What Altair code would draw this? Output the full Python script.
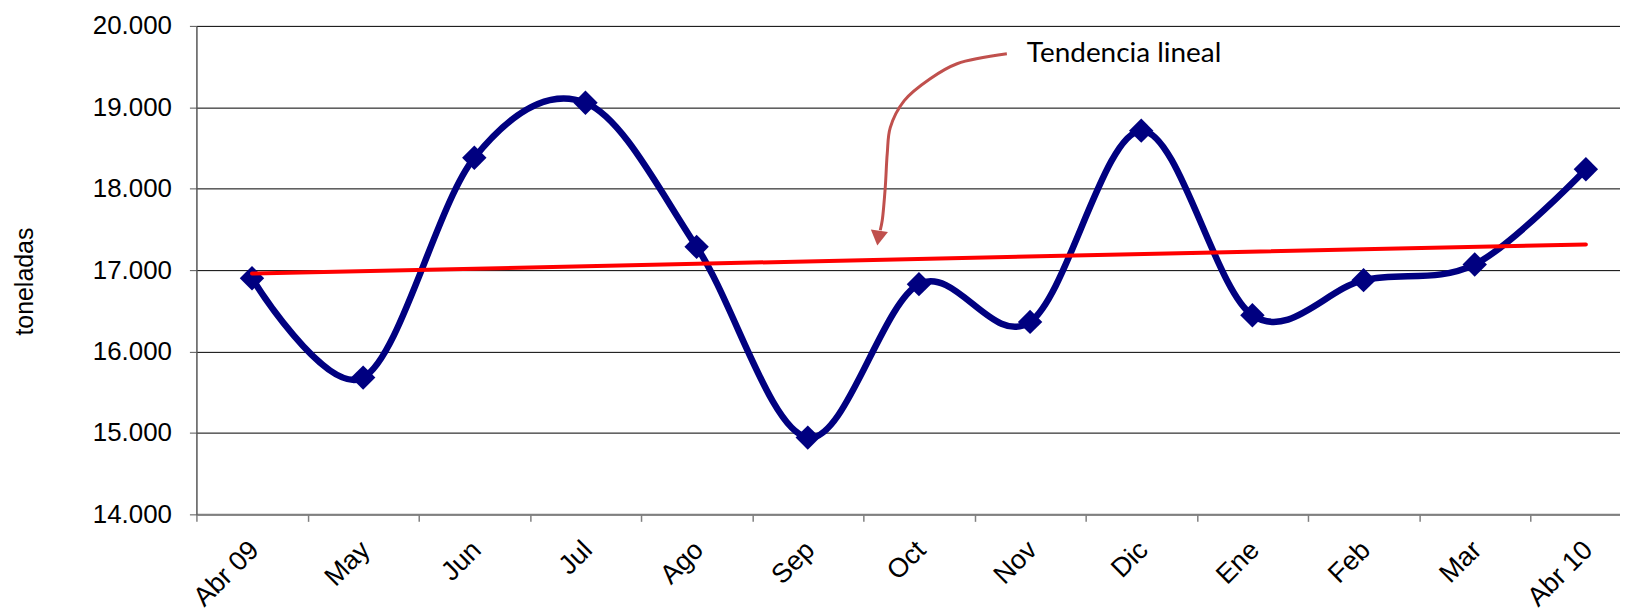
import altair as alt
import pandas as pd

# ---- data ----
months = ["Abr 09", "May", "Jun", "Jul", "Ago", "Sep", "Oct", "Nov", "Dic", "Ene", "Feb", "Mar", "Abr 10"]
tons = [16900, 15680, 18380, 19055, 17286, 14943, 16828, 16364, 18713, 16446, 16877, 17070, 18240]
y_ticks = [14000, 15000, 16000, 17000, 18000, 19000, 20000]

# annotation ("Tendencia lineal" + curved arrow), in data coordinates
note_text = ["Tendencia lineal"]
note_idx = [6.971]
note_val = [19551]
arrow_idx = [6.791, 6.343, 6.101, 5.868, 5.742, 5.715, 5.697, 5.670, 5.652]
arrow_val = [19657, 19535, 19351, 19082, 18751, 18433, 18016, 17612, 17490]
head_idx = [5.635]
head_val = [17392]

FONT = "Liberation Sans"

df = pd.DataFrame({"idx": list(range(len(months))), "month": months, "tons": tons})
df_arrow = pd.DataFrame({"idx": arrow_idx, "tons": arrow_val, "seq": list(range(len(arrow_idx)))})
df_head = pd.DataFrame({"idx": head_idx, "tons": head_val})
df_note = pd.DataFrame({"idx": note_idx, "tons": note_val, "t": note_text})

W = 1428
DMAX = 12.307
step = W / (DMAX + 0.5)
half = step / 2

label_expr = "[" + ",".join("'" + m + "'" for m in months) + "][datum.value]"

x_enc = alt.X(
    "idx:Q",
    scale=alt.Scale(domain=[-0.5, DMAX], nice=False, zero=False),
    axis=alt.Axis(
        values=list(range(len(months))),
        labelExpr=label_expr,
        tickOffset=-half,
        labelOffset=half - 7,
        labelAngle=-45,
        labelAlign="right",
        labelBaseline="top",
        labelPadding=15,
        labelFont=FONT,
        labelFontSize=27,
        labelColor="black",
        labelOverlap=False,
        labelFlush=False,
        labelBound=False,
        grid=False,
        domainColor="#808080",
        domainWidth=2,
        tickColor="#808080",
        tickWidth=1.5,
        tickSize=7,
        title=None,
    ),
)
y_enc = alt.Y(
    "tons:Q",
    scale=alt.Scale(domain=[14000, 20000], nice=False, zero=False),
    axis=alt.Axis(
        values=y_ticks,
        labelExpr="replace(format(datum.value, ','), ',', '.')",
        labelFont=FONT,
        labelFontSize=26,
        labelColor="black",
        labelPadding=18,
        tickSize=7,
        tickColor="#555555",
        domainColor="#555555",
        domainWidth=1.5,
        gridColor="#000000",
        gridWidth=1,
        title="toneladas",
        titleFont=FONT,
        titleFontSize=25,
        titleFontWeight="normal",
        titleColor="black",
        titleAngle=270,
        titleX=-164,
        titleY=256,
        titleAlign="center",
        titleBaseline="alphabetic",
    ),
)

base = alt.Chart(df)

series_line = base.mark_line(color="#000080", strokeWidth=6.5, interpolate="cardinal").encode(x=x_enc, y=y_enc)
series_pts = base.mark_point(shape="diamond", filled=True, color="#000080", size=600, opacity=1).encode(x=x_enc, y=y_enc)
trend = (
    base.transform_regression("idx", "tons")
    .mark_line(color="#FF0000", strokeWidth=4, strokeCap="round")
    .encode(x=x_enc, y=y_enc)
)
arrow = alt.Chart(df_arrow).mark_line(color="#C0504D", strokeWidth=3, interpolate="catmull-rom").encode(
    x=x_enc, y=y_enc, order="seq:Q"
)
head = alt.Chart(df_head).mark_point(shape="triangle-down", filled=True, color="#C0504D", size=300, angle=8, opacity=1).encode(
    x=x_enc, y=y_enc
)
note = alt.Chart(df_note).mark_text(
    align="left", baseline="alphabetic", font="Lato", fontSize=28, color="black"
).encode(x=x_enc, y=y_enc, text="t:N")

chart = (
    alt.layer(series_line, series_pts, trend, arrow, head, note)
    .properties(
        width=W,
        height=490,
        autosize=alt.AutoSizeParams(type="none"),
        padding={"left": 189, "top": 17, "right": 0, "bottom": 99},
        background="white",
    )
    .configure_view(stroke=None)
)

chart.save("out.html", embed_options={"renderer": "svg", "actions": False})
